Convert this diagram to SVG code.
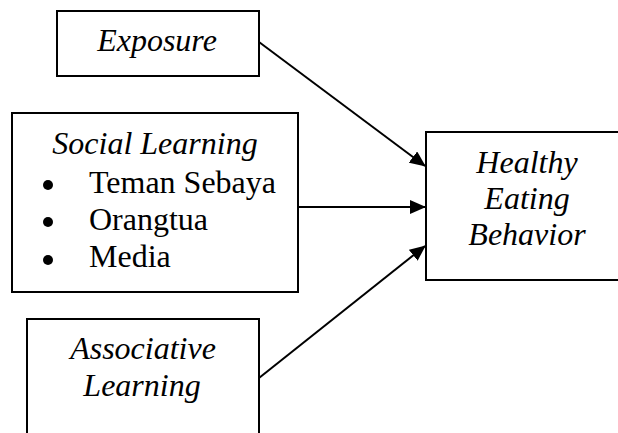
<svg xmlns="http://www.w3.org/2000/svg" width="618" height="433" viewBox="0 0 618 433">
<style>
.box{fill:#fff;stroke:#000;stroke-width:2}
.t{font-family:"Liberation Serif","Times New Roman",serif;font-size:32px;fill:#000}
.i{font-style:italic}
.c{text-anchor:middle}
.conn{stroke:#000;stroke-width:2;fill:none}
</style>
<defs>
<marker id="ah" markerUnits="userSpaceOnUse" markerWidth="16" markerHeight="14" refX="15" refY="7" orient="auto">
<path d="M0,0 L16,7 L0,14 z" fill="#000"/>
</marker>
</defs>
<rect width="618" height="433" fill="#fff"/>
<g id="connectors">
<line class="conn" x1="259" y1="42" x2="425" y2="166" marker-end="url(#ah)"/>
<line class="conn" x1="298" y1="207" x2="425" y2="207" marker-end="url(#ah)"/>
<line class="conn" x1="259" y1="378" x2="425" y2="246" marker-end="url(#ah)"/>
</g>
<g id="exposure">
<rect class="box" x="57" y="11" width="202" height="65"/>
<text class="t i c" x="157" y="51">Exposure</text>
</g>
<g id="social-learning">
<rect class="box" x="12" y="113" width="286" height="179"/>
<text class="t i c" x="155" y="154">Social Learning</text>
<circle cx="48" cy="185" r="5"/>
<circle cx="48" cy="222" r="5"/>
<circle cx="48" cy="260" r="5"/>
<text class="t" x="89" y="193">Teman Sebaya</text>
<text class="t" x="89" y="230">Orangtua</text>
<text class="t" x="89" y="267">Media</text>
</g>
<g id="associative-learning">
<rect class="box" x="27" y="319" width="232" height="130"/>
<text class="t i c" x="143" y="359">Associative</text>
<text class="t i c" x="142" y="396">Learning</text>
</g>
<g id="healthy-eating-behavior">
<rect class="box" x="426" y="132" width="200" height="148"/>
<text class="t i c" x="527" y="173">Healthy</text>
<text class="t i c" x="527" y="209">Eating</text>
<text class="t i c" x="527" y="245">Behavior</text>
</g>
</svg>
